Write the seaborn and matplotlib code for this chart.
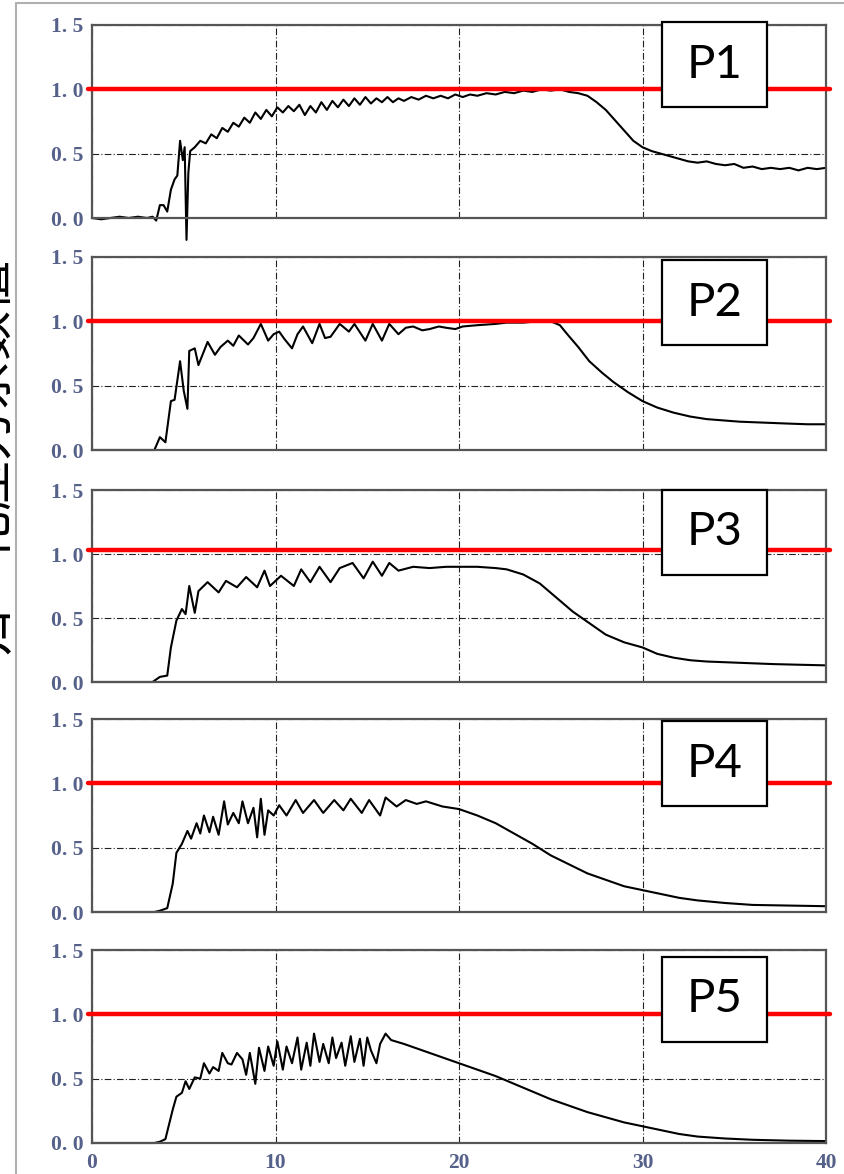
import numpy as np
import pandas as pd
import seaborn as sns
import matplotlib.pyplot as plt
from matplotlib.lines import Line2D
from matplotlib.patches import Rectangle

# ------------------ Datos ------------------
t_p1 = [0, 0.5, 1.0, 1.5, 2.0, 2.5, 3.0, 3.3, 3.5, 3.7, 3.9, 4.1, 4.3, 4.5, 4.65, 4.8, 4.95, 5.05,
        5.15, 5.25, 5.35, 5.6, 5.9, 6.2, 6.5, 6.8, 7.1, 7.4, 7.7, 8.0, 8.3, 8.6, 8.9, 9.2, 9.5, 9.8,
        10.1, 10.4, 10.7, 11.0, 11.3, 11.6, 11.9, 12.2, 12.5, 12.8, 13.1, 13.4, 13.7, 14.0, 14.3,
        14.6, 14.9, 15.2, 15.5, 15.8, 16.1, 16.4, 16.7, 17.0, 17.4, 17.8, 18.2, 18.6, 19.0, 19.4,
        19.8, 20.2, 20.6, 21.0, 21.5, 22.0, 22.5, 23.0, 23.5, 24.0, 24.5, 25.0, 25.5, 26.0, 26.5,
        27.0, 27.5, 28.0, 28.5, 29.0, 29.5, 30.0, 30.5, 31.0, 31.5, 32.0, 32.5, 33.0, 33.5, 34.0,
        34.5, 35.0, 35.5, 36.0, 36.5, 37.0, 37.5, 38.0, 38.5, 39.0, 39.5, 40.0]
v_p1 = [0, -0.01, 0.0, 0.01, 0.0, 0.01, 0.0, 0.01, -0.02, 0.1, 0.1, 0.05, 0.22, 0.3, 0.33, 0.6,
        0.45, 0.55, -0.17, 0.35, 0.52, 0.55, 0.6,
        0.58, 0.65, 0.62, 0.7, 0.67, 0.74, 0.71, 0.78, 0.74, 0.82, 0.77, 0.84, 0.79, 0.86, 0.82,
        0.87, 0.83, 0.88, 0.8, 0.87, 0.82, 0.9, 0.84, 0.91, 0.86, 0.92, 0.87, 0.93, 0.88, 0.94,
        0.89, 0.93, 0.9, 0.94, 0.9, 0.93,
        0.91, 0.94, 0.92, 0.95, 0.93, 0.95, 0.93, 0.96, 0.94, 0.96, 0.95,
        0.97, 0.96, 0.98, 0.97, 0.99, 0.98, 1.0, 0.99, 1.0, 0.98, 0.97, 0.95, 0.9, 0.84, 0.76,
        0.68, 0.6, 0.55, 0.52, 0.5, 0.48, 0.46, 0.44, 0.43, 0.44, 0.42, 0.41, 0.42, 0.39, 0.4,
        0.38, 0.39, 0.38, 0.39, 0.37, 0.39, 0.38, 0.39]

t_p2 = [0, 1, 2, 3, 3.4, 3.7, 4.0, 4.3, 4.5, 4.8, 5.0, 5.2, 5.3, 5.6, 5.8, 6.3, 6.7, 7.0, 7.4, 7.7,
        8.0, 8.5, 8.8, 9.2, 9.6, 9.9, 10.2, 10.5, 10.9, 11.2, 11.5, 12.0, 12.4, 12.7, 13.0, 13.5,
        14.0, 14.3, 14.9, 15.3, 15.8, 16.2, 16.7, 17.1, 17.5, 18.0, 18.4, 18.9, 19.3, 19.8, 20.2,
        21.0, 22.0, 22.6, 23.5, 24.3, 25.0, 25.5, 25.9, 26.5, 27.1, 27.8, 28.4, 29.2, 30.0, 30.8,
        31.7, 32.6, 33.5, 34.4, 35.3, 36.2, 37.1, 38.0, 39.0, 40.0]
v_p2 = [0, 0, 0, 0, 0, 0.1, 0.06, 0.38, 0.39, 0.69, 0.46, 0.32, 0.77, 0.79, 0.66, 0.84, 0.74, 0.8,
        0.85, 0.81, 0.89, 0.82, 0.87, 0.98, 0.85, 0.9, 0.92, 0.86, 0.79, 0.9, 0.96, 0.83, 0.98,
        0.87, 0.88, 0.98, 0.92, 0.98, 0.85, 0.98, 0.85, 0.98, 0.9, 0.95, 0.96, 0.93, 0.94, 0.96,
        0.95, 0.94, 0.96, 0.97, 0.98, 0.99, 0.99, 1.0, 1.0, 0.97, 0.9, 0.8, 0.69, 0.6, 0.53, 0.45,
        0.38, 0.33, 0.29, 0.26, 0.24, 0.23, 0.22, 0.215, 0.21, 0.205, 0.2, 0.2]

t_p3 = [0, 1, 2, 3, 3.3, 3.7, 4.1, 4.3, 4.6, 4.9, 5.1, 5.3, 5.6, 5.8, 6.3, 6.9, 7.3, 7.9, 8.4, 9.0,
        9.4, 9.7, 10.3, 11.0, 11.4, 11.9, 12.4, 13.0, 13.5, 14.2, 14.8, 15.3, 15.8, 16.2, 16.7,
        17.5, 18.4, 19.3, 20.2, 21.0, 22.0, 22.6, 23.5, 24.4, 25.3, 26.2, 27.1, 28.0, 29.0, 30.0,
        30.8, 31.7, 32.6, 33.5, 34.4, 35.3, 36.2, 37.1, 38.5, 40.0]
v_p3 = [0, 0, 0, 0, 0, 0.04, 0.05, 0.27, 0.48, 0.57, 0.53, 0.75, 0.54, 0.71, 0.78, 0.7, 0.79,
        0.74, 0.82, 0.74, 0.87, 0.75, 0.83, 0.75, 0.88, 0.78, 0.9, 0.78, 0.89, 0.93, 0.81, 0.94,
        0.83, 0.93, 0.87, 0.9, 0.89, 0.9, 0.9, 0.9, 0.89, 0.88, 0.84, 0.77, 0.66, 0.55, 0.46,
        0.37, 0.31, 0.27, 0.22, 0.19, 0.17, 0.16, 0.155, 0.15, 0.145, 0.14, 0.135, 0.13]

t_p4 = [0, 1, 2, 3, 3.4, 3.7, 4.1, 4.4, 4.6, 4.9, 5.2, 5.4, 5.7, 5.9, 6.1, 6.4, 6.6, 6.9, 7.2, 7.4,
        7.7, 8.0, 8.2, 8.5, 8.8, 9.0, 9.2, 9.4, 9.6, 9.9, 10.2, 10.6, 11.1, 11.5, 12.1, 12.6,
        13.2, 13.7, 14.1, 14.7, 15.1, 15.7, 16.0, 16.6, 17.1, 17.7, 18.2, 19.1, 20.0, 21.0, 22.0,
        23.0, 24.0, 25.0, 26.0, 27.0, 28.0, 29.0, 30.0, 31.0, 32.0, 33.0, 34.5, 36.0, 38.0, 40.0]
v_p4 = [0, 0, 0, 0, 0, 0.01, 0.03, 0.22, 0.46, 0.53, 0.63, 0.57, 0.69, 0.61, 0.75, 0.62, 0.74,
        0.6, 0.86, 0.68, 0.77, 0.69, 0.86, 0.69, 0.81, 0.58, 0.88, 0.6, 0.79, 0.75, 0.83, 0.75,
        0.87, 0.77, 0.87, 0.77, 0.87, 0.79, 0.88, 0.77, 0.87, 0.75, 0.89, 0.82, 0.87, 0.84, 0.86,
        0.82, 0.8, 0.75, 0.69, 0.61, 0.53, 0.44, 0.37, 0.3, 0.25, 0.2, 0.17, 0.14, 0.11, 0.09,
        0.07, 0.055, 0.05, 0.045]

t_p5 = [0, 1, 2, 3, 3.4, 3.7, 4.0, 4.4, 4.6, 4.9, 5.1, 5.3, 5.6, 5.9, 6.1, 6.4, 6.6, 6.9, 7.1, 7.4,
        7.6, 7.9, 8.2, 8.4, 8.6, 8.9, 9.1, 9.4, 9.6, 9.9, 10.1, 10.4, 10.6, 10.9, 11.2, 11.4,
        11.7, 11.9, 12.1, 12.4, 12.6, 12.9, 13.1, 13.3, 13.6, 13.8, 14.1, 14.3, 14.6, 14.8, 15.0,
        15.2, 15.5, 15.7, 16.0, 16.3, 17.0, 18.0, 19.0, 20.0, 21.0, 22.0, 23.0, 24.0, 25.0, 26.0,
        27.0, 28.0, 29.0, 30.0, 31.0, 32.0, 33.0, 34.5, 36.0, 38.0, 40.0]
v_p5 = [0, 0, 0, 0, 0, 0.01, 0.03, 0.26, 0.36, 0.39, 0.48, 0.42, 0.51, 0.5, 0.62, 0.54, 0.59,
        0.56, 0.7, 0.62, 0.61, 0.7, 0.65, 0.53, 0.7, 0.46, 0.74, 0.56, 0.75, 0.6, 0.79, 0.57,
        0.75, 0.62, 0.82, 0.57, 0.78, 0.6, 0.85, 0.63, 0.77, 0.62, 0.82, 0.66, 0.78, 0.6, 0.83,
        0.63, 0.81, 0.6, 0.82, 0.72, 0.62, 0.77, 0.85, 0.8, 0.77, 0.72, 0.67, 0.62, 0.57, 0.52,
        0.46, 0.4, 0.34, 0.29, 0.24, 0.2, 0.16, 0.13, 0.1, 0.07, 0.05, 0.035, 0.025, 0.018, 0.015]

etiquetas = ["P1", "P2", "P3", "P4", "P5"]
referencia = [1.0, 1.0, 1.03, 1.0, 1.0]   # linea roja de cada panel
y_ticks = [0.0, 0.5, 1.0, 1.5]
y_tick_labels = ["0. 0", "0. 5", "1. 0", "1. 5"]
x_ticks = [0, 10, 20, 30, 40]
x_tick_labels = ["0", "10", "20", "30", "40"]
y_label = "归一化压力系数值"

series = [(t_p1, v_p1), (t_p2, v_p2), (t_p3, v_p3), (t_p4, v_p4), (t_p5, v_p5)]

# ------------------ Estilo ------------------
sns.set_theme(style="white")
plt.rcParams['font.family'] = ['DejaVu Sans']

W, H = 844, 1174
fig = plt.figure(figsize=(W / 100, H / 100), dpi=100)

# posiciones de los paneles en pixeles (arriba, abajo)
paneles = [(25, 218), (257, 450), (490, 682), (719, 912), (950, 1143)]
caja_y = [0.795, 0.764, 0.78, 0.767, 0.746]
x0, x1 = 92, 826
tick_color = "#56618a"
tick_font = dict(family="Liberation Serif", fontsize=15.5, color=tick_color, fontweight="bold")

for i, ((top, bot), (t, v)) in enumerate(zip(paneles, series)):
    ax = fig.add_axes([x0 / W, 1 - bot / H, (x1 - x0) / W, (bot - top) / H])
    df = pd.DataFrame({"t": t, "v": v})
    sns.lineplot(data=df, x="t", y="v", ax=ax, color="black", lw=1.5,
                 estimator=None, sort=False, clip_on=False, zorder=3)
    ax.set_xlim(0, 40)
    ax.set_ylim(0, 1.5)
    ax.set_xlabel("")
    ax.set_ylabel("")
    ax.set_xticks(x_ticks)
    ax.set_yticks(y_ticks)
    ax.set_yticklabels(y_tick_labels, **tick_font)
    if i == len(series) - 1:
        ax.set_xticklabels(x_tick_labels, **tick_font)
        ax.tick_params(axis="x", pad=7)
    else:
        ax.set_xticklabels([])
    ax.tick_params(length=0)
    ax.tick_params(axis="y", pad=6)
    ax.grid(True, color="#222222", linestyle=(0, (6, 2, 1, 2)), lw=0.8)
    for s in ax.spines.values():
        s.set_color("#555555")
        s.set_linewidth(1.6)
        s.set_zorder(4)

    # linea de referencia roja
    ax.axhline(referencia[i], xmin=-0.006, xmax=1.006, color="red", lw=3.2,
               clip_on=False, zorder=5)

    # caja con etiqueta
    bw, bh = 105 / (x1 - x0), 85 / (bot - top)
    cx, cy = 0.848, caja_y[i]
    ax.add_patch(Rectangle((cx - bw / 2, cy - bh / 2), bw, bh, transform=ax.transAxes,
                           facecolor="white", edgecolor="black", lw=1.6,
                           clip_on=False, zorder=6))
    ax.text(cx, cy, etiquetas[i], transform=ax.transAxes, ha="center", va="center",
            family="Lato", fontsize=34, color="black", zorder=7)

# marco gris de la captura
fig.add_artist(Line2D([16 / W, 16 / W], [0, 1 - 3 / H], color="#b0b0b0", lw=1.5))
fig.add_artist(Line2D([16 / W, 1], [1 - 3 / H, 1 - 3 / H], color="#b0b0b0", lw=1.5))

# etiqueta vertical (cortada por el borde, como en la captura original)
fig.text(-12 / W, 1 - 455 / H, y_label, rotation=90, ha="center", va="center",
         fontsize=36, family=["Noto Sans CJK SC", "DejaVu Sans"], color="black")

fig.savefig("out.png", dpi=100)
